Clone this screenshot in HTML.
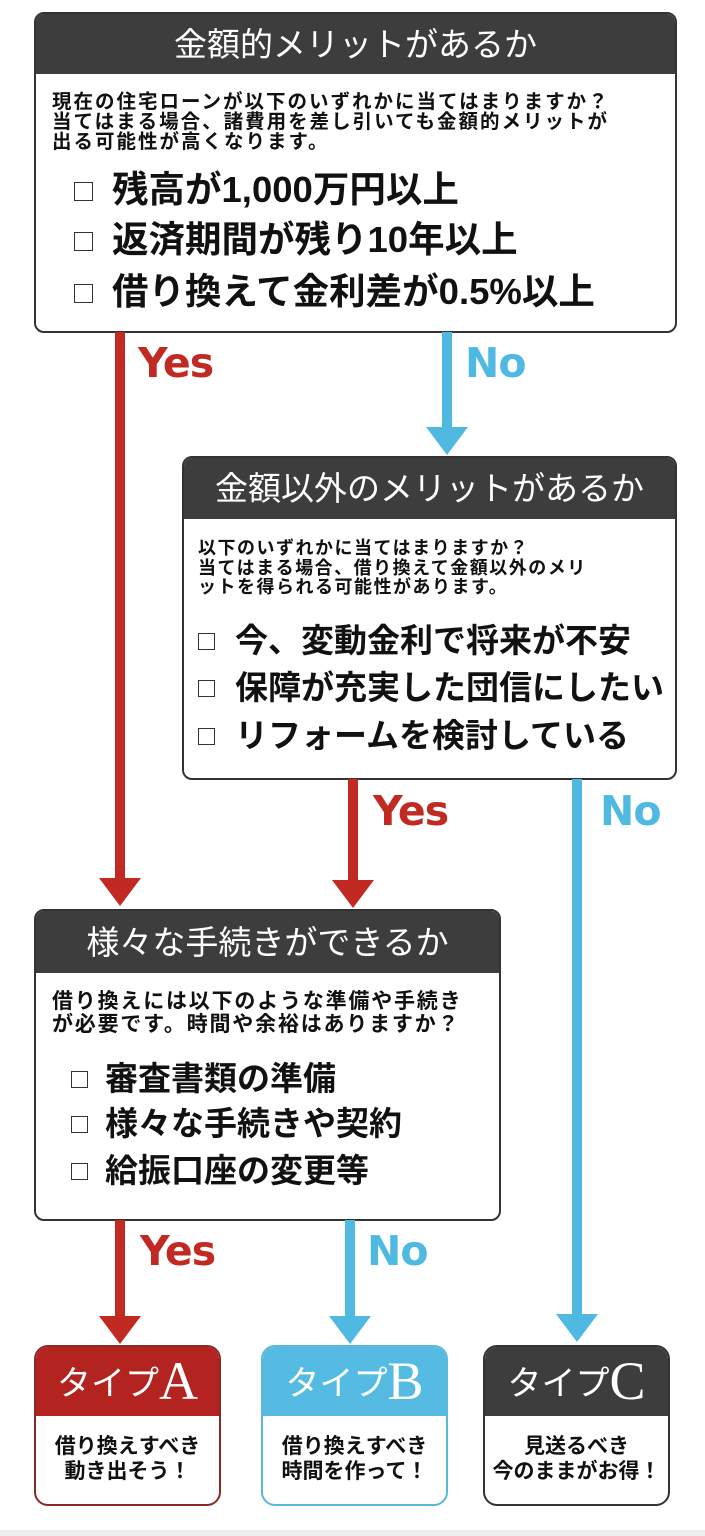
<!DOCTYPE html>
<html><head><meta charset="utf-8"><style>
*{margin:0;padding:0;box-sizing:border-box}
body{width:705px;height:1536px;background:#fff;position:relative;overflow:hidden;font-family:"Liberation Sans","Noto Sans CJK JP",sans-serif;color:#111}
.box{position:absolute;border:2px solid #333;border-radius:10px;background:#fff;overflow:hidden}
.hd{background:#3d3d3d;color:#fff;text-align:center;font-weight:normal}
.p{position:absolute;white-space:nowrap}
.sm{font-weight:bold;font-size:19.5px;line-height:20px;letter-spacing:2px}
.it{font-weight:bold;font-size:35px;line-height:38px}
.cb{position:absolute;width:19px;height:19px;border:1.5px solid #333}
.ln{position:absolute;width:10px}
.r{background:#c12a23}.b{background:#4fb9e2}
.tri{position:absolute;width:0;height:0;border-left:21px solid transparent;border-right:21px solid transparent;border-top:28px solid}
.lbl{position:absolute;font-weight:bold;font-size:41px;line-height:44px;font-family:"DejaVu Sans",sans-serif;letter-spacing:-1px}
.tb{position:absolute;width:187px;height:161px;border:2px solid;border-radius:14px;overflow:hidden;background:#fff}
.th{height:69px;color:#fff;font-size:34px;line-height:69px;text-align:center;font-family:"Liberation Sans","Noto Sans CJK JP",sans-serif}
.th b{font-weight:normal;font-size:54px;vertical-align:-4px;font-family:"Liberation Serif",serif}
.tt{text-align:center;font-weight:bold;font-size:21px;line-height:25px;padding-top:18px}
</style></head><body>

<div class="box" style="left:34px;top:12px;width:643px;height:321px">
<div class="hd" style="height:60px;font-size:33px;line-height:62px">金額的メリットがあるか</div>
<div class="p sm" style="left:16px;top:78px">現在の住宅ローンが以下のいずれかに当てはまりますか？<br>当てはまる場合、諸費用を差し引いても金額的メリットが<br>出る可能性が高くなります。</div>
<div class="cb" style="left:38px;top:168px"></div><div class="p it" style="left:76px;top:157px;font-size:36.5px">残高が1,000万円以上</div>
<div class="cb" style="left:38px;top:218px"></div><div class="p it" style="left:76px;top:207px;font-size:36.5px">返済期間が残り10年以上</div>
<div class="cb" style="left:38px;top:270px"></div><div class="p it" style="left:76px;top:259px;font-size:36.5px">借り換えて金利差が0.5%以上</div>
</div>

<div class="ln r" style="left:115px;top:332px;height:550px"></div>
<div class="tri" style="left:99px;top:878px;border-top-color:#c12a23"></div>
<div class="lbl" style="left:138px;top:341px;color:#c12a23">Yes</div>
<div class="ln b" style="left:442px;top:332px;height:100px"></div>
<div class="tri" style="left:426px;top:427px;border-top-color:#4fb9e2"></div>
<div class="lbl" style="left:465px;top:341px;color:#4fb9e2">No</div>

<div class="box" style="left:182px;top:456px;width:495px;height:324px">
<div class="hd" style="height:61px;font-size:33px;line-height:62px">金額以外のメリットがあるか</div>
<div class="p sm" style="left:14px;top:81px;font-size:18px;line-height:19.5px;letter-spacing:1.5px">以下のいずれかに当てはまりますか？<br>当てはまる場合、借り換えて金額以外のメリ<br>ットを得られる可能性があります。</div>
<div class="cb" style="left:14px;top:175px;width:17px;height:17px"></div><div class="p it" style="left:51px;top:164px;font-size:33px">今、変動金利で将来が不安</div>
<div class="cb" style="left:14px;top:222px;width:17px;height:17px"></div><div class="p it" style="left:51px;top:211px;font-size:33px">保障が充実した団信にしたい</div>
<div class="cb" style="left:14px;top:270px;width:17px;height:17px"></div><div class="p it" style="left:51px;top:259px;font-size:33px">リフォームを検討している</div>
</div>

<div class="ln r" style="left:348px;top:779px;height:105px"></div>
<div class="tri" style="left:332px;top:880px;border-top-color:#c12a23"></div>
<div class="lbl" style="left:373px;top:789px;color:#c12a23">Yes</div>
<div class="ln b" style="left:572px;top:779px;height:538px"></div>
<div class="tri" style="left:556px;top:1314px;border-top-color:#4fb9e2"></div>
<div class="lbl" style="left:600px;top:789px;color:#4fb9e2">No</div>

<div class="box" style="left:34px;top:909px;width:467px;height:312px">
<div class="hd" style="height:62px;font-size:33px;line-height:64px">様々な手続きができるか</div>
<div class="p sm" style="left:16px;top:79px;font-size:21px;line-height:23px;letter-spacing:1.8px">借り換えには以下のような準備や手続き<br>が必要です。時間や余裕はありますか？</div>
<div class="cb" style="left:35px;top:160px;width:17px;height:17px"></div><div class="p it" style="left:69px;top:149px;font-size:33px">審査書類の準備</div>
<div class="cb" style="left:35px;top:205px;width:17px;height:17px"></div><div class="p it" style="left:69px;top:194px;font-size:33px">様々な手続きや契約</div>
<div class="cb" style="left:35px;top:252px;width:17px;height:17px"></div><div class="p it" style="left:69px;top:241px;font-size:33px">給振口座の変更等</div>
</div>

<div class="ln r" style="left:115px;top:1220px;height:100px"></div>
<div class="tri" style="left:99px;top:1316px;border-top-color:#c12a23"></div>
<div class="lbl" style="left:140px;top:1229px;color:#c12a23">Yes</div>
<div class="ln b" style="left:345px;top:1220px;height:100px"></div>
<div class="tri" style="left:329px;top:1316px;border-top-color:#4fb9e2"></div>
<div class="lbl" style="left:367px;top:1229px;color:#4fb9e2">No</div>

<div class="tb" style="left:34px;top:1345px;border-color:#8a2a26">
<div class="th" style="background:#b3231f">タイプ<b>A</b></div>
<div class="tt">借り換えすべき<br>動き出そう！</div></div>
<div class="tb" style="left:261px;top:1345px;border-color:#5ab8d8">
<div class="th" style="background:#55bbe3">タイプ<b>B</b></div>
<div class="tt">借り換えすべき<br>時間を作って！</div></div>
<div class="tb" style="left:483px;top:1345px;border-color:#333">
<div class="th" style="background:#3d3d3d">タイプ<b>C</b></div>
<div class="tt">見送るべき<br>今のままがお得！</div></div>

<div style="position:absolute;left:0;top:1530px;width:705px;height:6px;background:#eeeeee"></div>
</body></html>
